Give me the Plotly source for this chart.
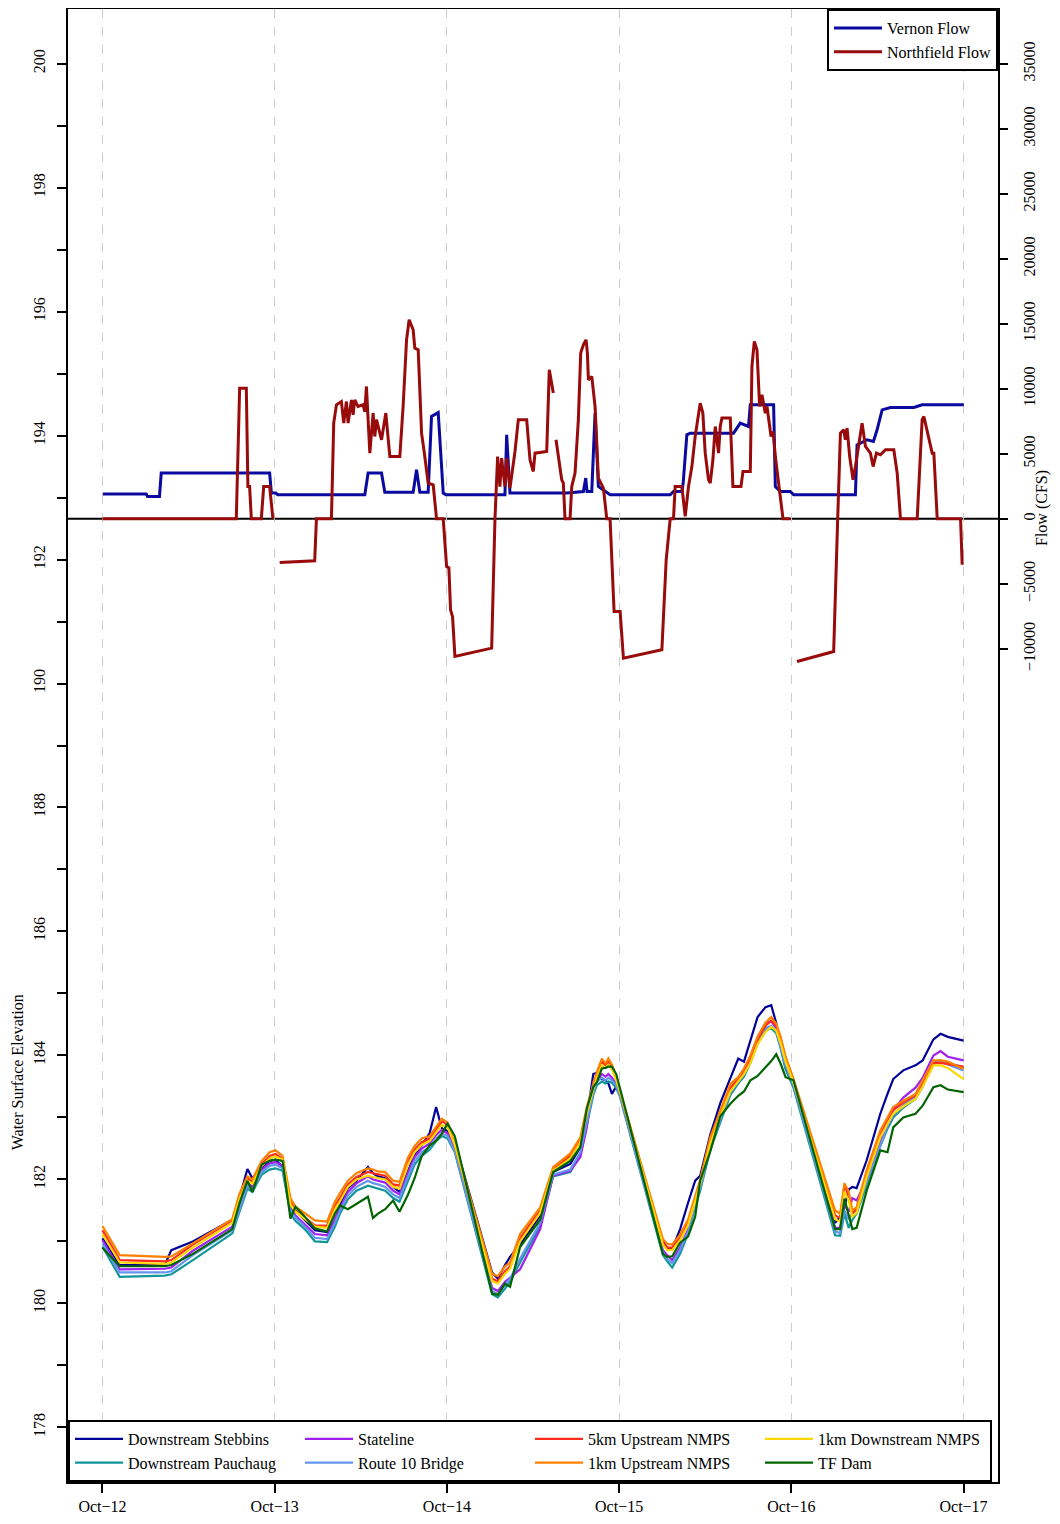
import plotly.graph_objects as go

# ---------------- data ----------------
day_ticks = [0, 24, 48, 72, 96, 120]          # hours since Oct-12 00:00
day_labels = ["Oct\u221212", "Oct\u221213", "Oct\u221214", "Oct\u221215", "Oct\u221216", "Oct\u221217"]

elev_ticks = list(range(178, 201))
flow_ticks = list(range(-10000, 35001, 5000))

# Vernon flow (hour, cfs)
vernon_points = [(0.04, 1900), (6.10, 1900), (6.28, 1720), (7.95, 1720), (8.19, 3520), (23.30, 3520),
                 (23.54, 1980), (24.14, 1980), (24.42, 1850), (36.56, 1850), (37.02, 3520), (38.89, 3520),
                 (39.35, 2050), (43.30, 2050), (43.77, 3770), (44.23, 2050), (45.39, 2050), (45.86, 7870),
                 (46.79, 8180), (47.49, 1980), (47.86, 1850), (56.09, 1850), (56.33, 6460), (56.79, 1980),
                 (64.70, 1980), (67.02, 2100), (67.35, 3130), (67.53, 2100), (68.19, 2100), (68.65, 8130),
                 (69.11, 2480), (70.28, 1980), (70.74, 1850), (79.12, 1850), (79.58, 2100), (80.75, 2100),
                 (80.93, 2770), (81.44, 6460), (81.91, 6590), (87.95, 6590), (88.88, 7360), (90.03, 7100),
                 (90.28, 8770), (93.53, 8770), (93.77, 2480), (94.47, 2100), (95.86, 2100), (96.32, 1850),
                 (104.93, 1850), (105.16, 5690), (106.56, 6080), (107.44, 5950), (107.95, 6850),
                 (108.65, 8380), (109.81, 8560), (113.07, 8560), (114.23, 8770), (120.04, 8770)]

# Northfield flow (hour, cfs); None = gap in record
northfield_points = [(0.0, 0), (18.65, 0), (19.12, 10050), (20.05, 10050), (20.27, 2480), (20.51, 2480),
                     (20.75, 0), (22.14, 0), (22.47, 2480), (23.30, 2480), (23.76, 0), (24.2, None),
                     (24.70, -3360), (29.58, -3230), (29.82, 0), (31.91, 0), (32.23, 7360), (32.61, 8770),
                     (33.30, 9020), (33.63, 7360), (34.00, 9020), (34.23, 7360), (34.70, 9150), (34.93, 8000),
                     (35.16, 9150), (35.62, 8640), (36.32, 8770), (36.56, 8250), (36.79, 10180), (37.26, 5050),
                     (37.72, 8130), (37.95, 6330), (38.19, 7620), (38.89, 6080), (39.49, 8130), (40.05, 4790),
                     (41.44, 4790), (41.90, 8640), (42.38, 13770), (42.74, 15310), (43.30, 14540),
                     (43.53, 13130), (44.00, 13000), (44.47, 6590), (44.86, 5050), (45.39, 2750),
                     (46.09, 2620), (46.56, 0), (47.49, 0), (47.96, -3670), (48.28, -3770), (48.51, -7000),
                     (48.79, -7540), (49.12, -10590), (54.24, -9950), (54.70, 0), (55.07, 4790), (55.39, 2480),
                     (55.63, 4670), (56.09, 2480), (56.33, 4670), (56.79, 2360), (57.49, 5180), (57.95, 7620),
                     (59.12, 7620), (59.58, 4540), (60.04, 3640), (60.28, 5050), (61.91, 5180), (62.27, 11460),
                     (62.83, 9670), (63.0, None), (63.21, 6080), (64.00, 3000), (64.23, 2750), (64.46, 0),
                     (65.16, 0), (65.40, 2480), (65.86, 3520), (66.32, 7620), (66.65, 12750), (67.02, 13380),
                     (67.40, 13770), (67.58, 12750), (67.72, 10690), (68.19, 10950), (68.65, 8640),
                     (69.11, 3130), (69.81, 2360), (70.28, 0), (70.74, 0), (71.30, -7130), (72.14, -7130),
                     (72.60, -10720), (77.96, -10080), (78.56, -3150), (79.12, 0), (79.58, 0), (79.81, 2480),
                     (80.75, 2480), (81.21, 180), (81.67, 2480), (82.14, 4020), (82.60, 6330), (83.30, 8900),
                     (83.67, 8130), (84.00, 5050), (84.46, 3000), (84.70, 2750), (85.07, 4540), (85.40, 7100),
                     (85.86, 5050), (86.09, 7100), (86.33, 7750), (87.49, 7750), (87.86, 2480), (88.98, 2480),
                     (89.26, 3640), (90.28, 3640), (90.51, 11720), (90.84, 13640), (91.21, 13000),
                     (91.58, 8640), (91.91, 9540), (92.37, 8130), (92.61, 8640), (93.17, 6330), (93.45, 6720),
                     (93.77, 4790), (94.37, 1980), (94.84, 0), (95.86, 0), (96.3, None), (96.79, -10980),
                     (101.90, -10210), (102.46, 0), (102.84, 6590), (103.30, 6850), (103.53, 6080),
                     (103.77, 6980), (104.13, 4790), (104.60, 3000), (104.93, 4020), (105.86, 7360),
                     (106.33, 5560), (107.02, 5050), (107.40, 4020), (107.86, 5050), (108.42, 4920),
                     (109.12, 5310), (110.28, 5310), (110.75, 3520), (111.21, 0), (113.54, 0), (113.77, 2480),
                     (114.23, 7620), (114.47, 7870), (115.63, 5050), (115.86, 5050), (116.33, 0), (119.58, 0),
                     (119.81, -3540)]

# Water surface elevation (common hourly sample grid)
elev_hours = [0.0, 2.4, 8.7, 9.6, 12.6, 18.1, 19.1, 20.2, 20.9, 22.2,
              23.3, 24.1, 25.1, 26.2, 26.9, 28.2, 29.6, 31.3, 32.4, 33.1,
              34.2, 35.4, 37.0, 37.7, 38.4, 39.4, 40.5, 41.4, 42.6, 43.5,
              44.5, 45.6, 46.5, 47.3, 48.1, 49.1, 54.3, 55.1, 56.1, 56.8,
              58.2, 61.0, 62.8, 65.2, 66.6, 67.5, 68.4, 68.9, 69.6, 70.1,
              70.5, 71.0, 71.6, 72.1, 78.1, 78.7, 79.4, 80.5, 81.6, 82.6,
              83.3, 84.7, 86.1, 87.5, 88.6, 89.4, 90.3, 91.3, 92.4, 93.2,
              93.9, 94.5, 95.2, 96.3, 102.1, 102.8, 103.4, 104.0, 104.5, 105.1,
              106.5, 108.4, 109.4, 110.2, 111.6, 113.3, 114.3, 115.8, 116.8, 117.8,
              120.0]

elev_stebbins = [181.05, 180.62, 180.62, 180.86, 181.00, 181.35, 181.70, 182.17, 182.02, 182.20,
                 182.30, 182.32, 182.20, 181.66, 181.50, 181.35, 181.18, 181.15, 181.32, 181.58,
                 181.86, 181.98, 182.20, 182.10, 182.05, 182.02, 181.88, 181.80, 182.15, 182.40,
                 182.55, 182.75, 183.17, 182.82, 182.78, 182.60, 180.50, 180.40, 180.62, 180.75,
                 180.95, 181.42, 182.12, 182.25, 182.52, 183.00, 183.70, 183.72, 183.62, 183.60,
                 183.55, 183.38, 183.50, 183.40, 181.00, 180.90, 180.88, 181.20, 181.62, 181.98,
                 182.06, 182.72, 183.23, 183.65, 183.95, 183.90, 184.25, 184.62, 184.78, 184.81,
                 184.52, 184.15, 183.80, 183.50, 181.30, 181.40, 181.55, 181.84, 181.88, 181.86,
                 182.31, 183.06, 183.38, 183.62, 183.76, 183.84, 183.92, 184.26, 184.35, 184.30,
                 184.24]
elev_pauchaug = [180.92, 180.43, 180.45, 180.47, 180.70, 181.13, 181.48, 181.85, 181.80, 182.08,
                 182.16, 182.18, 182.14, 181.45, 181.33, 181.20, 181.00, 180.99, 181.24, 181.45,
                 181.68, 181.82, 181.90, 181.88, 181.86, 181.82, 181.70, 181.64, 181.98, 182.24,
                 182.38, 182.48, 182.62, 182.70, 182.66, 182.44, 180.15, 180.10, 180.24, 180.35,
                 180.66, 181.25, 182.05, 182.12, 182.40, 182.88, 183.36, 183.52, 183.58, 183.55,
                 183.58, 183.56, 183.48, 183.34, 180.78, 180.68, 180.58, 180.80, 181.12, 181.56,
                 181.82, 182.48, 182.92, 183.36, 183.55, 183.66, 183.88, 184.20, 184.40, 184.44,
                 184.36, 184.12, 183.78, 183.48, 181.10, 181.09, 181.45, 181.22, 181.35, 181.45,
                 181.92, 182.54, 182.82, 183.00, 183.16, 183.30, 183.50, 183.88, 183.92, 183.88,
                 183.80]
elev_stateline = [181.02, 180.55, 180.56, 180.58, 180.85, 181.24, 181.58, 181.95, 181.88, 182.16,
                  182.26, 182.28, 182.22, 181.55, 181.42, 181.28, 181.12, 181.10, 181.36, 181.55,
                  181.80, 181.94, 182.05, 182.00, 181.98, 181.95, 181.82, 181.76, 182.12, 182.36,
                  182.50, 182.58, 182.72, 182.80, 182.74, 182.50, 180.25, 180.20, 180.35, 180.42,
                  180.55, 181.20, 182.06, 182.14, 182.36, 182.84, 183.58, 183.62, 183.70, 183.66,
                  183.70, 183.64, 183.54, 183.38, 180.86, 180.78, 180.70, 180.90, 181.20, 181.64,
                  181.90, 182.56, 183.00, 183.46, 183.62, 183.74, 183.98, 184.30, 184.52, 184.55,
                  184.44, 184.20, 183.88, 183.55, 181.22, 181.22, 181.60, 181.48, 181.70, 181.66,
                  182.00, 182.64, 182.94, 183.12, 183.32, 183.48, 183.64, 184.00, 184.07, 183.98,
                  183.92]
elev_route10 = [180.97, 180.50, 180.50, 180.52, 180.78, 181.18, 181.52, 181.90, 181.84, 182.12,
                182.22, 182.24, 182.18, 181.50, 181.38, 181.24, 181.06, 181.04, 181.30, 181.50,
                181.74, 181.88, 181.98, 181.94, 181.92, 181.88, 181.76, 181.70, 182.05, 182.30,
                182.44, 182.52, 182.66, 182.74, 182.70, 182.46, 180.20, 180.15, 180.30, 180.40,
                180.72, 181.30, 182.08, 182.16, 182.44, 182.92, 183.40, 183.58, 183.64, 183.60,
                183.64, 183.60, 183.52, 183.36, 180.82, 180.72, 180.65, 180.86, 181.16, 181.60,
                181.86, 182.52, 182.96, 183.40, 183.58, 183.70, 183.92, 184.24, 184.44, 184.48,
                184.40, 184.16, 183.84, 183.52, 181.16, 181.14, 181.50, 181.36, 181.45, 181.52,
                181.96, 182.58, 182.86, 183.04, 183.20, 183.34, 183.54, 183.86, 183.90, 183.86,
                183.76]
elev_5km_up = [181.18, 180.70, 180.68, 180.70, 180.95, 181.34, 181.72, 182.02, 181.96, 182.25,
               182.38, 182.41, 182.33, 181.64, 181.50, 181.38, 181.26, 181.25, 181.58, 181.70,
               181.92, 182.04, 182.12, 182.10, 182.08, 182.06, 181.92, 181.90, 182.30, 182.48,
               182.60, 182.66, 182.80, 182.94, 182.88, 182.55, 180.40, 180.36, 180.52, 180.60,
               181.05, 181.50, 182.16, 182.38, 182.64, 183.10, 183.50, 183.68, 183.90, 183.84,
               183.90, 183.80, 183.62, 183.42, 180.98, 180.90, 180.90, 181.06, 181.30, 181.70,
               181.96, 182.64, 183.06, 183.48, 183.62, 183.75, 183.96, 184.26, 184.48, 184.56,
               184.48, 184.28, 183.96, 183.60, 181.42, 181.38, 181.90, 181.74, 181.46, 181.52,
               182.10, 182.74, 182.96, 183.12, 183.24, 183.36, 183.56, 183.88, 183.88, 183.86,
               183.82]
elev_1km_up = [181.25, 180.78, 180.75, 180.76, 180.97, 181.36, 181.77, 182.05, 182.00, 182.30,
               182.44, 182.47, 182.38, 181.70, 181.56, 181.45, 181.34, 181.32, 181.64, 181.78,
               181.98, 182.10, 182.18, 182.16, 182.13, 182.12, 181.98, 181.96, 182.36, 182.54,
               182.66, 182.70, 182.85, 182.98, 182.92, 182.58, 180.48, 180.44, 180.60, 180.66,
               181.12, 181.55, 182.20, 182.42, 182.68, 183.17, 183.54, 183.73, 183.95, 183.87,
               183.95, 183.85, 183.66, 183.44, 181.04, 180.96, 180.95, 181.11, 181.35, 181.75,
               182.00, 182.68, 183.11, 183.54, 183.65, 183.79, 184.00, 184.30, 184.53, 184.62,
               184.51, 184.30, 183.98, 183.62, 181.50, 181.45, 181.94, 181.80, 181.50, 181.55,
               182.15, 182.79, 183.00, 183.17, 183.27, 183.38, 183.60, 183.92, 183.92, 183.90,
               183.78]
elev_1km_down = [181.12, 180.66, 180.64, 180.66, 180.90, 181.30, 181.68, 181.98, 181.93, 182.22,
                 182.34, 182.37, 182.32, 181.60, 181.48, 181.36, 181.24, 181.22, 181.52, 181.65,
                 181.88, 182.00, 182.06, 182.04, 182.02, 182.00, 181.88, 181.85, 182.24, 182.44,
                 182.56, 182.62, 182.76, 182.88, 182.84, 182.56, 180.36, 180.32, 180.48, 180.56,
                 181.00, 181.46, 182.14, 182.34, 182.60, 183.06, 183.45, 183.64, 183.84, 183.80,
                 183.85, 183.78, 183.60, 183.42, 180.95, 180.86, 180.86, 181.02, 181.26, 181.66,
                 181.92, 182.58, 183.02, 183.42, 183.58, 183.70, 183.88, 184.18, 184.38, 184.46,
                 184.40, 184.20, 183.90, 183.56, 181.36, 181.32, 181.80, 181.66, 181.40, 181.46,
                 182.04, 182.68, 182.90, 183.06, 183.18, 183.30, 183.50, 183.84, 183.84, 183.80,
                 183.62]
elev_tf_dam = [180.90, 180.60, 180.60, 180.62, 180.80, 181.20, 181.62, 181.98, 181.80, 182.24,
               182.30, 182.32, 182.30, 181.37, 181.56, 181.40, 181.21, 181.16, 181.45, 181.58,
               181.52, 181.60, 181.72, 181.38, 181.45, 181.52, 181.66, 181.48, 181.76, 182.02,
               182.38, 182.55, 182.62, 182.74, 182.90, 182.70, 180.16, 180.14, 180.32, 180.27,
               180.91, 181.35, 182.12, 182.30, 182.52, 183.14, 183.49, 183.57, 183.79, 183.80,
               183.82, 183.82, 183.70, 183.48, 180.80, 180.75, 180.76, 180.98, 181.08, 181.40,
               181.98, 182.45, 183.02, 183.22, 183.35, 183.42, 183.60, 183.67, 183.80, 183.91,
               184.02, 183.87, 183.65, 183.60, 181.20, 181.20, 181.69, 181.43, 181.20, 181.22,
               181.82, 182.47, 182.44, 182.84, 183.00, 183.06, 183.19, 183.49, 183.52, 183.45,
               183.41]

# name, values, colour, legend rank (row-major in the 4-column legend)
elev_series = [
    ("Downstream Stebbins", elev_stebbins, "#000099", 1),
    ("Downstream Pauchaug", elev_pauchaug, "#10969A", 5),
    ("Stateline", elev_stateline, "#A020F0", 2),
    ("Route 10 Bridge", elev_route10, "#6495ED", 6),
    ("5km Upstream NMPS", elev_5km_up, "#FF2A1A", 3),
    ("1km Upstream NMPS", elev_1km_up, "#FF7F00", 7),
    ("1km Downstream NMPS", elev_1km_down, "#FFD700", 4),
    ("TF Dam", elev_tf_dam, "#006400", 8),
]

# ---------------- figure ----------------
FONT = "Liberation Serif"
fig = go.Figure()

fig.add_trace(go.Scatter(
    x=[p[0] for p in vernon_points], y=[p[1] for p in vernon_points],
    mode="lines", name="Vernon Flow", yaxis="y2", legend="legend",
    line=dict(color="#0A0AA0", width=3)))
fig.add_trace(go.Scatter(
    x=[p[0] for p in northfield_points], y=[p[1] for p in northfield_points],
    mode="lines", name="Northfield Flow", yaxis="y2", legend="legend",
    line=dict(color="#990A0A", width=3), connectgaps=False))

for name, vals, col, rank in elev_series:
    fig.add_trace(go.Scatter(
        x=elev_hours, y=vals, mode="lines", name=name, yaxis="y",
        legend="legend2", legendrank=rank, line=dict(color=col, width=2.2)))

fig.add_shape(type="line", xref="paper", x0=0, x1=1, yref="y2", y0=0, y1=0,
              line=dict(color="black", width=2), layer="between")

# the page adds an 8px body margin on every side, so the figure is 16px smaller than the window
fig.update_layout(
    width=1044, height=1508,
    margin=dict(l=60, r=54, t=1, b=34),
    paper_bgcolor="white", plot_bgcolor="white",
    font=dict(family=FONT, size=16, color="black"),
    xaxis=dict(range=[-4.8, 124.8], tickvals=day_ticks, ticktext=day_labels,
               ticks="outside", ticklen=9, tickwidth=1.5, tickcolor="black",
               showgrid=True, gridcolor="#cccccc", griddash="dash", gridwidth=1,
               showline=True, mirror=True, linecolor="black", linewidth=2,
               zeroline=False, ticklabelstandoff=0, automargin=False),
    yaxis=dict(range=[177.12, 200.88], tickvals=elev_ticks,
               ticktext=[str(v) if v % 2 == 0 else "" for v in elev_ticks],
               tickangle=-90, ticks="outside", ticklen=9, tickwidth=1.5, tickcolor="black",
               showgrid=False, showline=True, mirror=True, linecolor="black", linewidth=2,
               zeroline=False, ticklabelstandoff=6, automargin=False),
    yaxis2=dict(range=[-74092, 39215], overlaying="y", side="right",
                tickvals=flow_ticks, tickformat="d", tickangle=-90,
                ticks="outside", ticklen=9, tickwidth=1.5, tickcolor="black",
                showgrid=False, showline=False, zeroline=False, ticklabelstandoff=8,
                automargin=False),
    legend=dict(x=1, y=1, xanchor="right", yanchor="top", bgcolor="white",
                bordercolor="black", borderwidth=2, font=dict(family=FONT, size=16),
                traceorder="normal", itemwidth=48),
    legend2=dict(x=0, y=0, xanchor="left", yanchor="bottom", orientation="h",
                 entrywidth=167, entrywidthmode="pixels", bgcolor="white",
                 bordercolor="black", borderwidth=2, font=dict(family=FONT, size=16),
                 traceorder="normal", itemwidth=48),
    annotations=[
        dict(text="Water Surface Elevation", xref="paper", yref="paper",
             x=-0.054, y=0.278, xanchor="center", yanchor="middle",
             textangle=-90, showarrow=False, font=dict(family=FONT, size=16)),
        dict(text="Flow (CFS)", xref="paper", yref="paper",
             x=1.048, y=0.661, xanchor="center", yanchor="middle",
             textangle=-90, showarrow=False, font=dict(family=FONT, size=16)),
    ],
)

fig.write_html("out.html")
